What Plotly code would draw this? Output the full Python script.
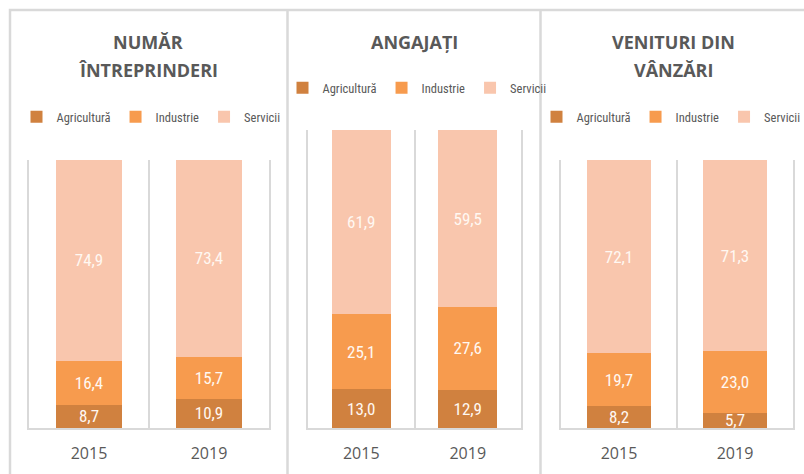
import plotly.graph_objects as go

W, H = 804, 474

years = ["2015", "2019"]
sectors = ["Agricultură", "Industrie", "Servicii"]
colors = ["#D0813F", "#F79B4E", "#F9C6AD"]

panel_titles = [["NUMĂR", "ÎNTREPRINDERI"], ["ANGAJAȚI"], ["VENITURI DIN", "VÂNZĂRI"]]

intreprinderi = {"Agricultură": [8.7, 10.9], "Industrie": [16.4, 15.7], "Servicii": [74.9, 73.4]}
angajati = {"Agricultură": [13.0, 12.9], "Industrie": [25.1, 27.6], "Servicii": [61.9, 59.5]}
venituri = {"Agricultură": [8.2, 5.7], "Industrie": [19.7, 23.0], "Servicii": [72.1, 71.3]}
panels = [intreprinderi, angajati, venituri]

FONT = "Liberation Sans Narrow, Roboto Condensed, Lato, Open Sans, sans-serif"
WIDE = "Open Sans, Lato, sans-serif"
GRAY = "#595959"
LINE = "#D9D9D9"

def px_x(x):
    return x / W

def px_y(y):
    return 1 - y / H

# panel geometry (pixels)
x_domains = [(29, 269), (308, 521), (561, 793)]
y_tops = [160, 130, 160]
y_bottom = 428
title_centers = [148, 414, 673]
legend_pos = [(151, 117), (417, 88), (671, 117)]

fig = go.Figure()
legend_names = ["legend", "legend2", "legend3"]

for p, data in enumerate(panels):
    ax = "" if p == 0 else str(p + 1)
    for s, sec in enumerate(sectors):
        fig.add_trace(go.Bar(
            x=years, y=data[sec], name=sec,
            marker=dict(color=colors[s], line=dict(width=0)),
            xaxis="x" + ax, yaxis="y" + ax,
            texttemplate="%{y:.1f}", textposition="inside", textangle=0,
            insidetextanchor="middle", constraintext="none",
            textfont=dict(family=FONT, size=17, color="#FFF8F2"),
            legend=legend_names[p], showlegend=True,
        ))

layout = dict(
    width=W, height=H, autosize=False, barmode="stack", bargap=0.45,
    margin=dict(l=0, r=0, t=0, b=0, autoexpand=False),
    paper_bgcolor="white", plot_bgcolor="white",
    separators=", ",
    font=dict(family=FONT, color=GRAY),
)

for p in range(3):
    ax = "" if p == 0 else str(p + 1)
    x0, x1 = x_domains[p]
    layout["xaxis" + ax] = dict(
        domain=[px_x(x0), px_x(x1)], anchor="y" + ax, type="category",
        tickson="boundaries", showgrid=True, gridcolor=LINE, gridwidth=1.5,
        showline=True, linecolor=LINE, linewidth=1.5, ticks="",
        tickfont=dict(family=WIDE, size=16, color=GRAY), ticklabelstandoff=10,
        fixedrange=True, automargin=False,
    )
    layout["yaxis" + ax] = dict(
        domain=[px_y(y_bottom), px_y(y_tops[p])], anchor="x" + ax,
        range=[0, 100], showticklabels=False, showgrid=False, zeroline=False,
        showline=True, mirror=True, linecolor=LINE, linewidth=1.5, ticks="",
        fixedrange=True, automargin=False,
    )
    lx, ly = legend_pos[p]
    layout[legend_names[p]] = dict(
        orientation="h", x=px_x(lx), y=px_y(ly), xanchor="center", yanchor="middle",
        font=dict(family=FONT, size=12.5, color=GRAY), itemwidth=30,
        bgcolor="rgba(0,0,0,0)", traceorder="normal", itemclick=False,
    )

fig.update_layout(**layout)

for p, lines in enumerate(panel_titles):
    for i, line in enumerate(lines):
        fig.add_annotation(
            text="<b>" + line + "</b>", xref="paper", yref="paper",
            x=px_x(title_centers[p]), y=px_y(42 + 28 * i),
            xanchor="center", yanchor="middle",
            showarrow=False, align="center",
            font=dict(family=WIDE, size=18, color=GRAY),
        )

# panel borders
fig.add_shape(type="rect", xref="paper", yref="paper",
              x0=px_x(10), x1=1.05, y0=-0.05, y1=px_y(10),
              line=dict(color=LINE, width=2.5), layer="below")
for xs in (287.5, 540.5):
    fig.add_shape(type="line", xref="paper", yref="paper",
                  x0=px_x(xs), x1=px_x(xs), y0=-0.05, y1=px_y(10),
                  line=dict(color=LINE, width=2.5), layer="below")

fig.write_html("out.html",
               config={"displayModeBar": False, "responsive": False},
               post_script="document.body.style.margin='0';document.body.style.overflow='hidden';")
